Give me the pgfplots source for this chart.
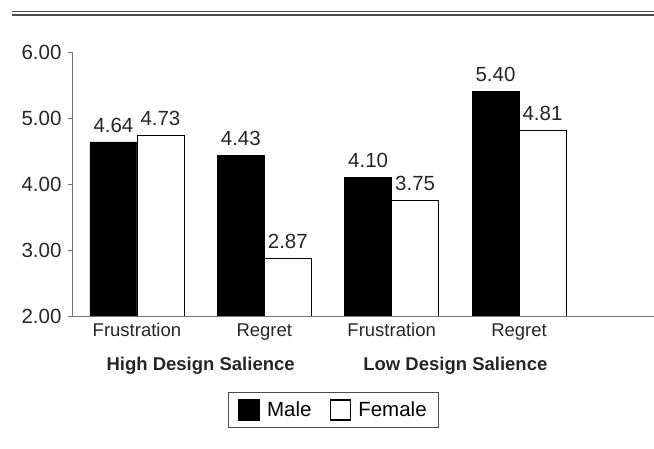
\documentclass[border=0pt]{standalone}
\usepackage{fontspec}
\setmainfont{Liberation Sans}
\usepackage{pgfplots}
\pgfplotsset{compat=1.18}
\newcommand{\lbl}{\fontsize{18.5bp}{22bp}\selectfont}
\newcommand{\num}{\fontsize{20.5bp}{24bp}\selectfont}
\begin{document}
\begin{tikzpicture}
\path[use as bounding box] (0,0) rectangle (654bp,449bp);
\draw[line width=1.3bp, color=black!70] (12bp,437.5bp) -- (654bp,437.5bp);
\draw[line width=1.3bp, color=black!70] (12bp,434bp) -- (654bp,434bp);
\begin{axis}[
  at={(72bp,133bp)}, anchor=south west,
  scale only axis, width=582bp, height=264bp,
  ymin=2, ymax=6, ytick={2,3,4,5,6},
  xmin=-0.51, xmax=4.06, enlarge x limits=false,
  xtick={0,1,2,3}, xticklabels={Frustration,Regret,Frustration,Regret},
  ybar=0pt, bar width=47bp,
  axis lines*=left,
  axis line style={color=black!55, line width=0.9bp},
  tick align=outside,
  major tick length=4bp,
  x tick style={draw=none},
  y tick style={color=black!55, line width=0.9bp},
  xticklabel style={font=\lbl, text=black!85},
  yticklabel style={font=\num, text=black!85, xshift=-3bp,
    /pgf/number format/.cd, fixed, fixed zerofill, precision=2},
  /pgf/number format/assume math mode=true,
  nodes near coords,
  every node near coord/.append style={font=\num, text=black!85, yshift=6bp,
    /pgf/number format/fixed, /pgf/number format/fixed zerofill, /pgf/number format/precision=2},
  legend style={at={(0.4493,-0.356)}, anchor=center, legend columns=2, draw=black!70,
    line width=0.8bp, font=\num, inner xsep=10bp, inner ysep=7bp,
    /tikz/every odd column/.append style={column sep=5bp},
    /tikz/every even column/.append style={column sep=16bp}},
  legend cell align=left,
  clip=false,
]
\addplot[fill=black, draw=black,
  legend image code/.code={\draw[fill=black,draw=black] (0bp,-10.5bp) rectangle (21bp,10.5bp);}]
  coordinates {(0,4.64) (1,4.43) (2,4.10) (3,5.40)};
\addlegendentry{Male}
\addplot[fill=white, draw=black, line width=0.9bp,
  legend image code/.code={\draw[fill=white,draw=black,line width=1.8bp] (0bp,-10bp) rectangle (20bp,10bp);}]
  coordinates {(0,4.73) (1,2.87) (2,3.75) (3,4.81)};
\addlegendentry{Female}
\draw[color=black!55, line width=0.9bp] (rel axis cs:0,0) -- (rel axis cs:1,0);
\node[anchor=base, yshift=-54bp, font=\lbl\bfseries, text=black!85] at (axis cs:0.5,2) {High Design Salience};
\node[anchor=base, yshift=-54bp, font=\lbl\bfseries, text=black!85] at (axis cs:2.5,2) {Low Design Salience};
\end{axis}
\end{tikzpicture}
\end{document}
